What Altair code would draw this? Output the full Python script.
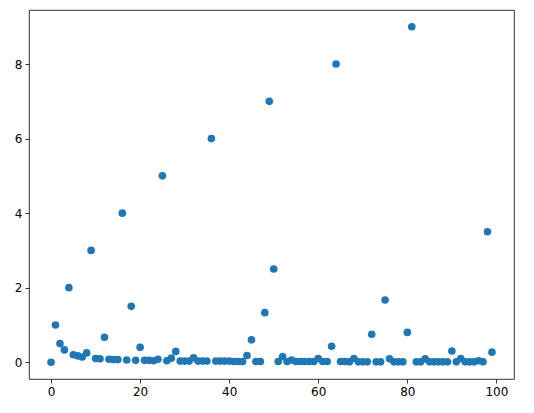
import altair as alt
import pandas as pd

x_vals = list(range(100))
y_vals = [
    0.0, 1.0, 0.5, 0.33, 2.0, 0.2, 0.17, 0.14, 0.25, 3.0,
    0.1, 0.09, 0.67, 0.08, 0.07, 0.07, 4.0, 0.06, 1.5, 0.05,
    0.4, 0.05, 0.05, 0.04, 0.08, 5.0, 0.04, 0.11, 0.29, 0.03,
    0.03, 0.03, 0.12, 0.03, 0.03, 0.03, 6.0, 0.03, 0.03, 0.03,
    0.03, 0.02, 0.02, 0.02, 0.18, 0.6, 0.02, 0.02, 1.33, 7.0,
    2.5, 0.02, 0.15, 0.02, 0.06, 0.02, 0.02, 0.02, 0.02, 0.02,
    0.1, 0.02, 0.02, 0.43, 8.0, 0.02, 0.02, 0.01, 0.1, 0.01,
    0.01, 0.01, 0.75, 0.01, 0.01, 1.67, 0.09, 0.01, 0.01, 0.01,
    0.8, 9.0, 0.01, 0.01, 0.09, 0.01, 0.01, 0.01, 0.01, 0.01,
    0.3, 0.01, 0.1, 0.01, 0.01, 0.01, 0.04, 0.01, 3.5, 0.27,
]
x_ticks = [0, 20, 40, 60, 80, 100]
y_ticks = [0, 2, 4, 6, 8]

df = pd.DataFrame({"x": x_vals, "y": y_vals})

axis_common = dict(
    grid=False, domain=False, tickColor="black", tickSize=4, tickWidth=0.8,
    labelFont="DejaVu Sans", labelFontSize=12, labelColor="black",
    labelPadding=3, title=None,
)

chart = alt.Chart(df).mark_circle(size=58, color="#1f77b4", opacity=1).encode(
    x=alt.X("x:Q", scale=alt.Scale(domain=[-4.95, 103.95], nice=False, zero=False),
            axis=alt.Axis(values=x_ticks, format="d", **axis_common)),
    y=alt.Y("y:Q", scale=alt.Scale(domain=[-0.45, 9.45], nice=False, zero=False),
            axis=alt.Axis(values=y_ticks, format="d", **axis_common)),
).properties(
    width=485, height=369,
    autosize=alt.AutoSizeParams(type="none"),
    padding={"left": 21, "top": 2, "right": 12, "bottom": 26},
).configure_view(
    stroke="black", strokeWidth=0.8
)

chart.save("out.html", embed_options={"renderer": "svg", "actions": False})
